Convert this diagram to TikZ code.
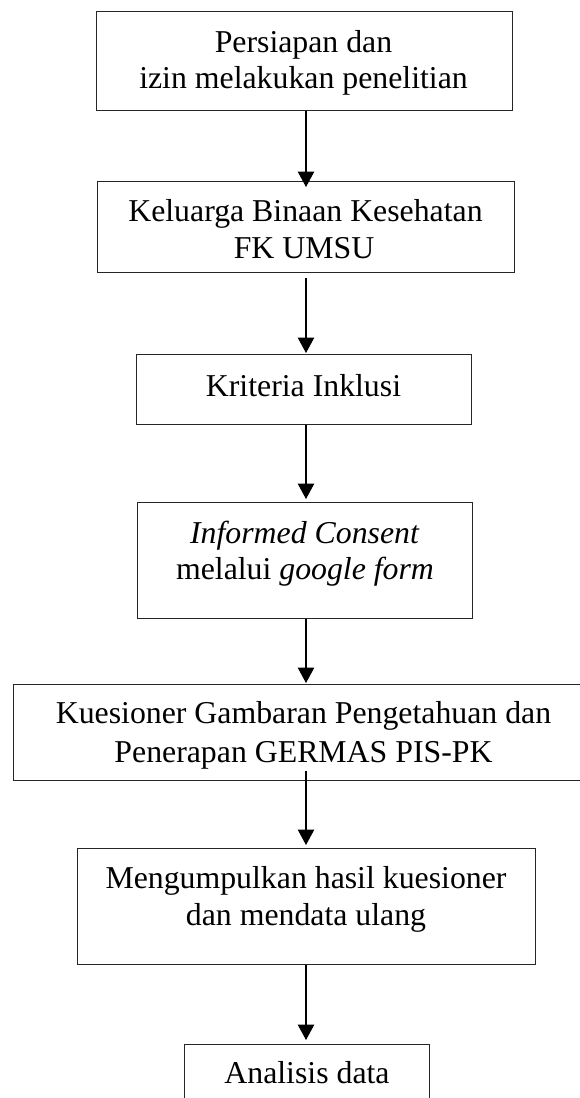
\documentclass[tikz,border=0pt]{standalone}
\usepackage{fontspec}
\setmainfont{Liberation Serif}
\usetikzlibrary{arrows.meta}

\tikzset{
  stepbox/.style={draw=black!85, line width=1.2pt, inner sep=0pt, anchor=north west},
  label/.style={anchor=base, inner sep=0pt, font=\fontsize{31.8}{37}\selectfont},
  flow/.style={draw=black, line width=1.1pt, -{Triangle[width=16.5pt,length=15.5pt]}}
}

\begin{document}
\begin{tikzpicture}[x=1pt, y=-1pt]
  \useasboundingbox (0,0) rectangle (580,1098);

  % process boxes
  \node[stepbox, minimum width=416.5pt, minimum height=99pt]  (b1) at (95.5,11) {};
  \node[stepbox, minimum width=417pt,   minimum height=91pt]  (b2) at (97,181) {};
  \node[stepbox, minimum width=335.5pt, minimum height=70pt]  (b3) at (135.5,354) {};
  \node[stepbox, minimum width=335.3pt, minimum height=116pt] (b4) at (136.7,502) {};
  \node[stepbox, minimum width=597pt,   minimum height=96pt]  (b5) at (13,684) {};
  \node[stepbox, minimum width=458.3pt, minimum height=116pt] (b6) at (76.7,848) {};
  \node[stepbox, minimum width=245pt,   minimum height=80pt]  (b7) at (184,1044) {};

  % box texts
  \node[label] (t1a) at (303.5,52)  {Persiapan dan};
  \node[label] (t1b) at (303.5,88)  {izin melakukan penelitian};
  \node[label] (t2a) at (305.5,221) {Keluarga Binaan Kesehatan};
  \node[label] (t2b) at (304,258)   {FK UMSU};
  \node[label] (t3)  at (303.5,396) {Kriteria Inklusi};
  \node[label] (t4a) at (304.5,543) {\itshape Informed Consent};
  \node[label] (t4b) at (305,579)   {melalui \textit{google form}};
  \node[label] (t5a) at (303.5,723) {Kuesioner Gambaran Pengetahuan dan};
  \node[label] (t5b) at (303.5,762) {Penerapan GERMAS PIS-PK};
  \node[label] (t6a) at (306,888)   {Mengumpulkan hasil kuesioner};
  \node[label] (t6b) at (306,925)   {dan mendata ulang};
  \node[label] (t7)  at (307,1083)  {Analisis data};

  % vertical axis of the flow
  \coordinate (spine) at (306,0);

  % connectors
  \draw[flow, shorten >=-6pt]                (b1.south -| spine) -- (b2.north -| spine);
  \draw[flow, shorten <=5pt, shorten >=1pt]  (b2.south -| spine) -- (b3.north -| spine);
  \draw[flow, shorten >=3pt]                 (b3.south -| spine) -- (b4.north -| spine);
  \draw[flow, shorten >=1pt]                 (b4.south -| spine) -- (b5.north -| spine);
  \draw[flow, shorten <=-10pt, shorten >=3pt] (b5.south -| spine) -- (b6.north -| spine);
  \draw[flow, shorten >=4pt]                 (b6.south -| spine) -- (b7.north -| spine);
\end{tikzpicture}
\end{document}
